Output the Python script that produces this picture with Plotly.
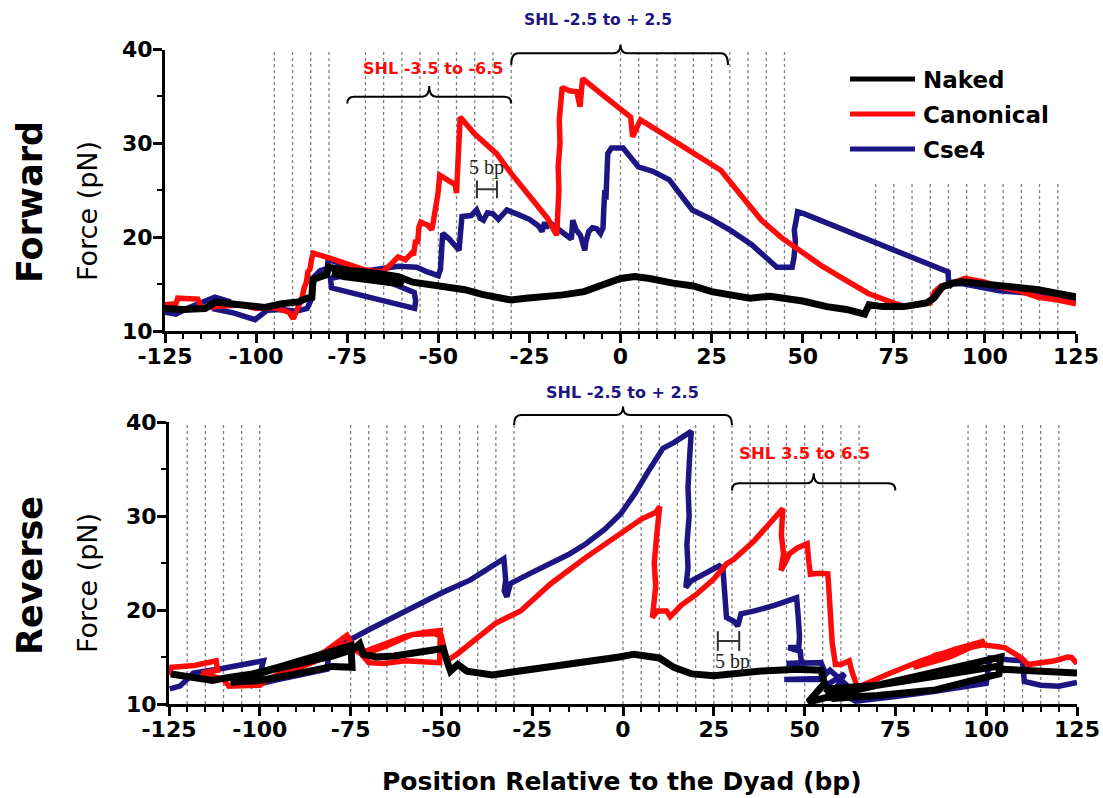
import plotly.graph_objects as go

# ---------------- values ----------------
x_tick_vals = [-125, -100, -75, -50, -25, 0, 25, 50, 75, 100, 125]
x_tick_text = ["-125", "-100", "-75", "-50", "-25", "0", "25", "50", "75", "100", "125"]
y_tick_vals = [10, 20, 30, 40]
y_tick_text = ["10", "20", "30", "40"]
series_names = ["Naked", "Canonical", "Cse4"]
series_colors = ["#000000", "#FF0A0A", "#1C1582"]

# Forward panel (position bp, force pN)
fwd_naked = [(-125, 12.4), (-120, 12.3), (-114, 12.4), (-111, 13.1), (-107, 12.9), (-102, 12.6),
             (-97.6, 12.5), (-93, 12.9), (-88.4, 13.1), (-86, 13.5), (-84.7, 13.6), (-84.4, 15.5),
             (-82, 15.8), (-80.6, 16.0), (-80.2, 16.8), (-76, 16.5), (-72, 16.2), (-66, 15.9),
             (-61, 15.6), (-60, 15.0), (-68, 15.4), (-76, 15.8), (-79, 16.2), (-72, 16.4),
             (-66, 16.1), (-61, 15.8), (-57, 15.2), (-52, 14.9), (-47, 14.5), (-42.7, 14.4),
             (-38, 13.9), (-33.6, 13.6), (-30, 13.3), (-26, 13.5), (-20, 13.6), (-15.8, 13.85),
             (-10, 14.2), (-6.4, 14.7), (-3, 15.2), (0, 15.6), (3.9, 15.8), (8, 15.6), (14.4, 15.1),
             (20, 14.8), (25, 14.2), (30, 13.9), (35.5, 13.5), (41, 13.7), (46.1, 13.5), (50, 13.2),
             (56.6, 12.6), (62, 12.3), (67, 11.8), (68.2, 12.8), (72, 12.6), (77.8, 12.6), (84, 13.0),
             (86, 13.5), (88.3, 14.7), (91, 15.1), (93.6, 15.25), (98, 15.1), (104, 14.9), (109, 14.6),
             (114.7, 14.4), (120, 14.0), (125, 13.65)]

fwd_canonical = [(-125, 12.8), (-122, 12.9), (-121.5, 13.5), (-116, 13.4), (-115, 12.5), (-110, 12.6),
                 (-104, 12.8), (-100, 12.4), (-95, 12.5), (-91, 12.0), (-89.8, 11.3), (-88.5, 12.5),
                 (-87.5, 13.4), (-86.8, 14.6), (-86.2, 15.2), (-85.8, 16.3), (-85.2, 16.6), (-84.8, 17.6),
                 (-84.3, 18.3), (-80, 17.8), (-76, 17.3), (-73.8, 17.0), (-70, 16.5), (-65.5, 16.3),
                 (-63.7, 16.85), (-61, 17.9), (-59, 17.6), (-57.3, 18.3), (-56.8, 18.1), (-56.2, 19.7),
                 (-55.7, 19.3), (-55.3, 21.1), (-54.8, 21.6), (-53, 21.3), (-51.8, 20.8), (-51.4, 21.6),
                 (-51.0, 22.5), (-50.6, 23.9), (-50.1, 24.6), (-49.6, 26.6), (-47.5, 26.1), (-45.4, 25.6),
                 (-45, 24.7), (-44.7, 26.5), (-44.5, 28.5), (-44.3, 30.2), (-44, 32.8), (-40, 31.0),
                 (-34, 28.9), (-30, 26.8), (-24.8, 24.3), (-20, 22.0), (-17.5, 20.2), (-17.2, 22.5),
                 (-16.9, 25.0), (-17.1, 27.5), (-16.6, 30.0), (-16.8, 32.5), (-16.2, 34.5), (-16.0, 36.0),
                 (-15.7, 35.9), (-14, 35.6), (-12, 35.5), (-11.1, 33.9), (-10.4, 36.9), (-5, 35.2),
                 (0, 33.6), (2.8, 32.8), (3.3, 30.7), (4.2, 31.4), (5.5, 32.5), (10, 31.4), (15, 30.2),
                 (20, 28.9), (27.6, 27.1), (33, 24.5), (38.7, 21.8), (44, 20.0), (49.3, 18.6), (55, 17.0),
                 (61.9, 15.4), (68, 14.0), (75.6, 12.9), (78, 12.6), (82, 12.9), (85, 13.0), (86.2, 14.2),
                 (88, 14.8), (91, 15.1), (94.6, 15.6), (100, 15.2), (104.1, 14.7), (110, 14.2),
                 (114.7, 13.6), (120, 13.3), (125, 12.9)]

fwd_cse4 = [(-125, 12.0), (-122, 11.8), (-119, 12.4), (-115, 13.1), (-111.3, 13.6), (-107, 13.1),
            (-112, 12.4), (-106, 11.9), (-100.3, 11.2), (-97, 12.2), (-93, 12.3), (-89, 12.1),
            (-86, 12.4), (-84.7, 13.5), (-84.4, 14.8), (-84.0, 15.8), (-82.5, 16.4), (-81, 16.6),
            (-80.5, 16.5), (-80.2, 17.6), (-76, 17.1), (-73.8, 16.9), (-66, 15.6), (-60, 14.7),
            (-56.6, 14.1), (-56.2, 13.2), (-56.5, 12.4), (-68, 13.5), (-79.3, 14.6), (-79.6, 15.6),
            (-70, 16.4), (-61, 16.9), (-55.9, 16.8), (-53, 16.3), (-50, 15.9), (-49.4, 16.6),
            (-49.1, 18.5), (-48.8, 20.4), (-47, 19.8), (-45.5, 19.2), (-44.3, 18.6), (-43.9, 20.5),
            (-43.5, 22.2), (-41, 22.3), (-39.5, 22.9), (-38.5, 22.0), (-37.6, 21.8), (-36.5, 22.6),
            (-35, 22.5), (-33.5, 21.9), (-32.2, 22.4), (-31.2, 22.9), (-28, 22.4), (-25, 21.9),
            (-22.5, 21.2), (-21.5, 20.6), (-20.8, 21.6), (-20.4, 21.0), (-19.3, 21.5), (-16, 20.6),
            (-13.5, 19.8), (-13.1, 21.8), (-12.2, 20.8), (-11, 20.2), (-9.8, 18.6), (-9.5, 19.5),
            (-8.7, 20.6), (-7.7, 21.0), (-6.5, 20.9), (-5.5, 20.4), (-4.8, 21.0), (-4.6, 22.9),
            (-4.3, 25.0), (-4.0, 24.0), (-3.7, 27.0), (-3.5, 28.9), (-2.5, 29.5), (0.7, 29.5),
            (4.9, 27.5), (9, 27.0), (13.4, 26.1), (19.7, 22.9), (25, 21.9), (30.3, 20.7), (36, 19.2),
            (42.9, 16.8), (47.1, 16.8), (47.6, 17.8), (48.0, 19.5), (47.7, 20.8), (48.3, 22.0),
            (48.6, 22.7), (50.3, 22.5), (89.9, 16.3), (90.1, 14.7), (91, 15.0), (93.6, 15.05),
            (100, 14.6), (104, 14.3), (110, 14.1), (115, 14.0), (120, 13.6), (125, 13.3)]

# Reverse panel
rev_naked = [(-124.5, 13.2), (-118, 12.8), (-113, 12.5), (-109, 12.8), (-102, 13.2), (-95, 13.9),
             (-89, 14.6), (-82, 15.3), (-77, 15.9), (-74.9, 16.2), (-74.6, 13.9), (-80, 14.0),
             (-90, 13.2), (-100, 12.5), (-108, 12.3), (-97, 13.6), (-88, 14.4), (-80, 15.1),
             (-74.3, 15.8), (-72.5, 16.4), (-71.5, 15.3), (-68, 15.0), (-63, 15.1), (-58, 15.4),
             (-54, 15.6), (-49.5, 15.9), (-48.5, 14.6), (-47.5, 13.5), (-45.5, 14.2), (-43, 13.5),
             (-36, 13.1), (-28, 13.5), (-20, 13.9), (-10, 14.4), (-1, 15.0), (3, 15.3), (8, 15.1),
             (10, 14.9), (14, 13.9), (19, 13.2), (25, 13.0), (29, 13.2), (38, 13.5), (48, 13.7),
             (54.5, 13.6), (55.5, 12.2), (51, 10.2), (62, 11.3), (75, 12.5), (90, 13.8), (104, 15.0),
             (103.5, 13.2), (86, 11.5), (70, 10.9), (58, 10.6), (56, 11.6), (70, 12.0), (85, 12.9),
             (103, 14.0), (104.5, 13.7), (110, 13.6), (118, 13.3), (125, 13.3)]

rev_canonical = [(-125, 13.1), (-124.3, 13.9), (-118, 14.1), (-112, 14.6), (-111.6, 13.6), (-116, 13.3),
                 (-110, 12.6), (-108.5, 11.9), (-100, 12.0), (-98, 12.6), (-90, 14.0), (-82, 15.6),
                 (-76, 17.3), (-75, 16.6), (-82, 15.0), (-90, 13.7), (-95, 13.1), (-85, 14.6), (-77, 16.3),
                 (-74, 15.8), (-72, 15.3), (-70, 14.4), (-66, 14.3), (-60, 14.6), (-55, 14.5),
                 (-50.5, 14.4), (-50.3, 17.8), (-55, 17.6), (-60, 17.2), (-66, 16.4), (-71, 15.6),
                 (-72, 15.2), (-65, 16.2), (-58, 17.4), (-52, 17.5), (-50, 17.2), (-49, 15.8),
                 (-48.5, 14.6), (-45.7, 15.3), (-40, 17.1), (-35, 18.6), (-28.2, 19.9), (-19.9, 22.8),
                 (-10.2, 25.6), (-2.5, 27.6), (2.3, 28.8), (4.3, 29.4), (5.2, 29.7), (9.1, 30.4),
                 (10.1, 31.0), (9.3, 28.0), (8.6, 25.0), (9.0, 22.5), (8.4, 20.5), (8.1, 19.2),
                 (9.5, 19.9), (12, 19.9), (13, 19.3), (16, 20.5), (20, 21.6), (25, 23.3), (28.5, 24.9),
                 (30.5, 25.4), (36, 27.3), (40, 29.0), (43, 30.4), (44, 30.8), (43.6, 28.0), (44.2, 26.0),
                 (43.5, 24.2), (45.9, 26.0), (48, 26.6), (50.7, 27.05), (51.2, 25.0), (51.6, 23.8),
                 (54, 23.9), (56.4, 23.85), (56.8, 21.5), (57.2, 19.0), (57.6, 16.5), (58.5, 14.2),
                 (60, 14.2), (62.3, 14.6), (63, 13.5), (64.6, 11.75), (65.3, 11.9), (73, 13.2),
                 (82.1, 14.6), (91.3, 15.8), (99.6, 16.7), (90, 15.0), (80, 13.9), (86, 15.2),
                 (99, 16.3), (105.1, 16.0), (109.7, 14.9), (111.5, 14.2), (118.9, 14.6), (122.4, 15.0),
                 (123.5, 14.95), (125, 14.3)]

rev_cse4 = [(-124.8, 11.6), (-122, 11.9), (-119.5, 12.8), (-118.3, 13.3), (-110, 13.8), (-104, 14.3),
            (-99, 14.6), (-100.5, 12.2), (-102.7, 11.9), (-95, 12.6), (-88, 13.1), (-81.5, 13.7),
            (-81, 15.2), (-80.6, 15.7), (-70, 17.9), (-60, 19.9), (-50, 21.8), (-42, 23.2),
            (-36, 24.6), (-32.8, 25.45), (-32.3, 23.2), (-32.7, 22.0), (-32.0, 21.4), (-31.4, 22.4),
            (-31, 22.8), (-25, 24.0), (-19.9, 24.9), (-15, 25.9), (-10.2, 27.05), (-5, 28.6),
            (-0.6, 30.25), (3.3, 32.4), (7.2, 34.9), (11.0, 37.2), (14, 37.8), (16.9, 38.6),
            (18.8, 39.0), (18.3, 36.0), (17.9, 33.0), (18.2, 30.0), (17.6, 27.0), (17.9, 24.5),
            (17.3, 22.4), (18.8, 23.1), (22, 23.8), (26.5, 24.7), (27.5, 24.4), (27.8, 22.5),
            (28.3, 20.5), (28.5, 19.2), (30.5, 18.8), (31.6, 18.3), (32.5, 19.6), (36.2, 19.9),
            (41.7, 20.5), (47.2, 21.2), (47.8, 21.3), (48.2, 19.5), (48.6, 17.2), (48.4, 16.0),
            (45.5, 16.0), (48.8, 15.6), (49.1, 14.4), (45, 14.3), (54.5, 14.4), (55.5, 13.5),
            (54.5, 12.6), (44.4, 12.6), (54.5, 12.7), (57, 13.6), (60, 12.5), (62.8, 11.6),
            (58, 11.2), (61, 13.2), (56, 12.0), (64, 10.3), (75, 10.8), (85, 11.3), (100, 12.2),
            (101, 14.9), (106, 14.7), (110, 14.6), (110.5, 12.4), (115, 12.0), (120, 11.9),
            (125, 12.3)]

# dotted guide lines (bp positions) and their top (pN)
fwd_guides_full = [-95, -90, -85, -80, -70, -65, -60, -55, -50, -45, -40, -35, -30,
                   0, 5, 10, 15, 20, 25, 30, 35, 40, 45]
fwd_guides_short = [70, 75, 80, 85, 90, 95, 100, 105, 110, 115, 120]
fwd_guides_short_top = 25.8
rev_guides = [-120, -115, -110, -105, -100, -75, -70, -65, -60, -55, -50, -45, -40, -35, -30,
              0, 5, 10, 15, 20, 25, 30, 35, 40, 45, 50, 55, 60, 65, 95, 100, 105, 110, 115, 120]

# ---------------- geometry ----------------
W, H = 1103, 798
XR = (-125, 125)
YR = (10, 40)
PANELS = {
    "top": dict(l=165, r=1076, t=49.5, b=331, xa="x", ya="y"),
    "bot": dict(l=169, r=1077, t=422, b=704, xa="x2", ya="y2"),
}
FONT = "DejaVu Sans"
NAVY = series_colors[2]
RED = series_colors[1]


def to_px(panel, x, y):
    p = PANELS[panel]
    return (p["l"] + (x - XR[0]) / (XR[1] - XR[0]) * (p["r"] - p["l"]),
            p["b"] - (y - YR[0]) / (YR[1] - YR[0]) * (p["b"] - p["t"]))


def PX(v):
    return v / W


def PY(v):
    return 1 - v / H


fig = go.Figure()

panel_series = {
    "top": [fwd_naked, fwd_canonical, fwd_cse4],
    "bot": [rev_naked, rev_canonical, rev_cse4],
}
draw_order = [2, 1, 0]
for pname, lists in panel_series.items():
    p = PANELS[pname]
    for i in draw_order:
        pts = lists[i]
        fig.add_trace(go.Scatter(
            x=[a for a, b in pts], y=[b for a, b in pts], mode="lines",
            name=series_names[i], showlegend=False,
            line=dict(color=series_colors[i], width=7 if i == 0 else 5.5),
            xaxis=p["xa"], yaxis=p["ya"]))

axis_common = dict(
    showline=True, linewidth=3, linecolor="black", mirror=False,
    ticks="outside", ticklen=9, tickwidth=3, tickcolor="black",
    showgrid=False, zeroline=False,
    tickfont=dict(family=FONT, size=22, color="black", weight="bold"),
    automargin=False, fixedrange=True,
)
for pname, p in PANELS.items():
    xk = "xaxis" if p["xa"] == "x" else "xaxis2"
    yk = "yaxis" if p["ya"] == "y" else "yaxis2"
    fig.update_layout(**{
        xk: dict(axis_common, range=list(XR), domain=[p["l"] / W, p["r"] / W],
                 anchor=p["ya"], tickmode="array", tickvals=x_tick_vals, ticktext=x_tick_text,
                 ticklabelstandoff=-5,
                 minor=dict(tick0=-125, dtick=5, ticks="outside", ticklen=5, tickwidth=2,
                            tickcolor="black", showgrid=False)),
        yk: dict(axis_common, range=list(YR), domain=[1 - p["b"] / H, 1 - p["t"] / H],
                 anchor=p["xa"], tickmode="array", tickvals=y_tick_vals, ticktext=y_tick_text,
                 ticklabelstandoff=-4,
                 minor=dict(tick0=10, dtick=5, ticks="outside", ticklen=5, tickwidth=2,
                            tickcolor="black", showgrid=False)),
    })

shapes = []
annotations = []


def guide(pname, xv, ytop):
    p = PANELS[pname]
    shapes.append(dict(type="line", xref=p["xa"], yref=p["ya"], x0=xv, x1=xv, y0=YR[0], y1=ytop,
                       line=dict(color="#808080", width=1.3, dash="dot"), layer="below"))


for xv in fwd_guides_full:
    guide("top", xv, 40)
for xv in fwd_guides_short:
    guide("top", xv, fwd_guides_short_top)
for xv in rev_guides:
    guide("bot", xv, 40)


def brace(pname, xl, xr, xm, yline_px, ytip_px, yend_px, r=7):
    l, _ = to_px(pname, xl, 20)
    rr, _ = to_px(pname, xr, 20)
    m, _ = to_px(pname, xm, 20)
    path = (f"M {PX(l)},{PY(yend_px)} Q {PX(l)},{PY(yline_px)} {PX(l + r)},{PY(yline_px)} "
            f"L {PX(m - r)},{PY(yline_px)} Q {PX(m)},{PY(yline_px)} {PX(m)},{PY(ytip_px)} "
            f"Q {PX(m)},{PY(yline_px)} {PX(m + r)},{PY(yline_px)} "
            f"L {PX(rr - r)},{PY(yline_px)} Q {PX(rr)},{PY(yline_px)} {PX(rr)},{PY(yend_px)}")
    shapes.append(dict(type="path", xref="paper", yref="paper", path=path,
                       line=dict(color="black", width=2)))


brace("top", -75, -30, -52.5, 96.7, 86.0, 103.5)
brace("top", -30, 29.5, 0, 53.3, 44.5, 65)
brace("bot", -30, 30, 0, 415, 406.5, 425)
brace("bot", 30, 75, 52.5, 483.3, 473.3, 490.5)


def text(xpx, ypx, s, size, color="black", bold=True, family=FONT, angle=0):
    annotations.append(dict(xref="paper", yref="paper", x=PX(xpx), y=PY(ypx), text=s,
                            showarrow=False, xanchor="center", yanchor="middle", textangle=angle,
                            font=dict(family=family, size=size, color=color,
                                      weight="bold" if bold else "normal")))


text(433, 69, "SHL -3.5 to -6.5", 16, RED)
text(598, 20, "SHL -2.5 to + 2.5", 15.5, NAVY)
text(622, 393, "SHL -2.5 to + 2.5", 16, NAVY)
text(804, 453, "SHL 3.5 to 6.5", 16.5, RED)


def scale_bar(pname, x0, x1, yv, half):
    p = PANELS[pname]
    for seg in [(x0, yv, x1, yv), (x0, yv - half, x0, yv + half), (x1, yv - half, x1, yv + half)]:
        shapes.append(dict(type="line", xref=p["xa"], yref=p["ya"], x0=seg[0], y0=seg[1],
                           x1=seg[2], y1=seg[3], line=dict(color="#333333", width=2)))


scale_bar("top", -39.4, -33.9, 25.1, 0.95)
scale_bar("bot", 26.1, 32.0, 16.7, 1.05)
text(487, 167, "5 bp", 20, "#222222", bold=False, family="Liberation Serif")
text(732, 661, "5 bp", 20, "#222222", bold=False, family="Liberation Serif")

# side labels and axis titles
text(30, 202, "Forward", 35, angle=-90)
text(30, 576, "Reverse", 35, angle=-90)
text(87, 211, "Force (pN)", 27, bold=False, angle=-90)
text(87, 583, "Force (pN)", 27, bold=False, angle=-90)
text(622, 781, "Position Relative to the Dyad (bp)", 25)

# legend drawn by hand (sample line + label)
legend_rows = [79, 114, 149]
for name, color, ypx in zip(series_names, series_colors, legend_rows):
    shapes.append(dict(type="line", xref="paper", yref="paper", x0=PX(850), x1=PX(915),
                       y0=PY(ypx), y1=PY(ypx), line=dict(color=color, width=5)))
    annotations.append(dict(xref="paper", yref="paper", x=PX(921), y=PY(ypx + 1), text=name,
                            showarrow=False, xanchor="left", yanchor="middle",
                            font=dict(family=FONT, size=23, color="black", weight="bold")))

fig.update_layout(
    width=W, height=H, autosize=False,
    margin=dict(l=0, r=0, t=0, b=0),
    paper_bgcolor="white", plot_bgcolor="white",
    showlegend=False, shapes=shapes, annotations=annotations,
)

fig.write_html("out.html", config={"displayModeBar": False},
               post_script="document.body.style.margin='0px';document.body.style.overflow='hidden';")
